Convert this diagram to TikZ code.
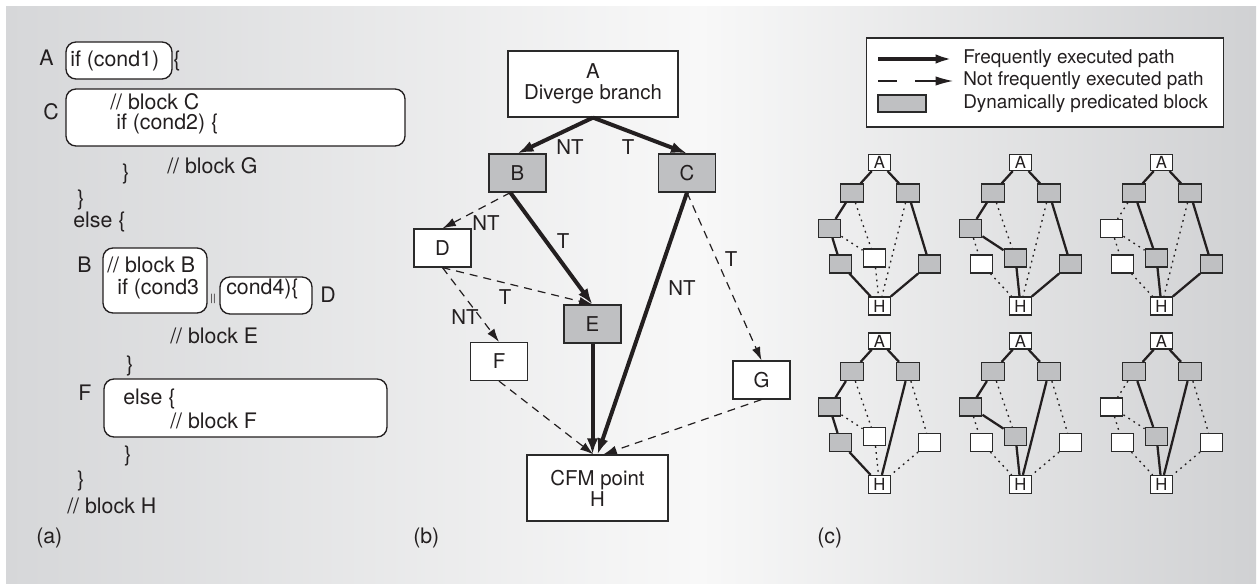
\documentclass[tikz,border=0pt]{standalone}
\usepackage{fontspec}
\setmainfont{TeX Gyre Heros}
\usetikzlibrary{arrows.meta}
\definecolor{ink}{HTML}{231F20}
\definecolor{pgray}{HTML}{BFC0C2}
\definecolor{bgL}{HTML}{D6D7D9}
\definecolor{bgM}{HTML}{F8F8F8}
\definecolor{bgR}{HTML}{D0D1D3}
\definecolor{edgec}{HTML}{2A2A2A}
\newcommand\mkgraph[6]{%
  \begin{scope}[shift={#2}]
    \node[sbox,minimum height=12pt] (#1A) at (879.5,162.5) {A};
    \node[sbox,fill=pgray] (#1L1) at (852,193) {};
    \node[sbox,fill=pgray] (#1R1) at (908,193) {};
    \node[sbox,fill=#3] (#1L2) at (829.5,228.5) {};
    \node[sbox,fill=#4] (#1L3) at (840.5,264) {};
    \node[sbox,fill=#5] (#1M) at (874.5,258) {};
    \node[sbox,fill=#6] (#1R2) at (929.5,264) {};
    \node[sbox] (#1H) at (879.5,306) {H};
  \end{scope}}
\begin{document}
\begin{tikzpicture}[x=0.75pt,y=-0.75pt,
  code/.style={anchor=base west,inner sep=0,font=\fontsize{16}{19}\selectfont,text=ink},
  cbox/.style={draw=ink,line width=1pt,rounded corners=7.5pt,fill=white,inner sep=0},
  fbox/.style={draw=edgec,line width=0.9pt,fill=white,inner sep=0,
    minimum width=42.75pt,minimum height=28.5pt,
    font=\fontsize{15.3}{15.8}\selectfont,text=ink,align=center},
  fboxg/.style={fbox,fill=pgray},
  lbl/.style={inner sep=0,font=\fontsize{15.3}{18}\selectfont,text=ink},
  freqarrow/.style={line width=3pt,draw=ink,-{Latex[length=12pt,width=8.5pt]}},
  rarearrow/.style={line width=0.9pt,draw=ink,dash pattern=on 6pt off 4.5pt,-{Latex[length=10pt,width=6.5pt]}},
  sbox/.style={draw=edgec,line width=0.9pt,fill=white,inner sep=0,minimum width=17pt,minimum height=13.5pt,
    font=\fontsize{12.5}{13}\selectfont,text=ink},
  csolid/.style={line width=1.7pt,draw=ink},
  cdot/.style={line width=1pt,draw=ink,dash pattern=on 1.3pt off 3.2pt},
  legtxt/.style={anchor=west,inner sep=0,font=\fontsize{14.2}{17}\selectfont,text=ink}
]
\useasboundingbox (0,0) rectangle (1258,585);
\fill[white] (0,0) rectangle (1258,585);
\shade[left color=bgL,right color=bgM] (6,7) rectangle (700,583);
\shade[left color=bgM,right color=bgR] (699.5,7) rectangle (1256,583);

% ---------------- (a) ----------------
\node[cbox,minimum width=79.5pt,minimum height=27.75pt] (boxA) at (119,60.5) {};
\node[cbox,minimum width=254.25pt,minimum height=42.75pt] (boxC) at (235.5,117.5) {};
\node[cbox,minimum width=78pt,minimum height=48.75pt] (boxB) at (155,280.5) {};
\node[cbox,minimum width=69pt,minimum height=27.75pt] (boxD) at (266,295.5) {};
\node[cbox,minimum width=212.25pt,minimum height=43.5pt] (boxF) at (245.5,408) {};

\node[code] (tA) at (39,66) {A};
\node[code] (tc1) at (70,67) {if (cond1)};
\node[code] (tb1) at (173,67) {\{};
\node[code] (tC) at (43,120) {C};
\node[code] (tbc) at (110,110) {// block C};
\node[code] (tc2) at (116,130) {if (cond2) \{};
\node[code] (tbg) at (167,173) {// block G};
\node[code] (tr1) at (122,180) {\}};
\node[code] (tr2) at (77,205) {\}};
\node[code] (tel) at (73,227) {else \{};
\node[code] (tB) at (77,272) {B};
\node[code] (tbb) at (107,272) {// block B};
\node[code] (tc3) at (117,294) {if (cond3};
\node[inner sep=0,font=\fontsize{7.5}{8}\selectfont,text=ink] (tor) at (213,299) {||};
\node[code] (tc4) at (226,294) {cond4)\{};
\node[code] (tD) at (320,302) {D};
\node[code] (tbe) at (170,343) {// block E};
\node[code] (tr3) at (126,371) {\}};
\node[code] (tF) at (78,400) {F};
\node[code] (tel2) at (123,404) {else \{};
\node[code] (tbf) at (170,428) {// block F};
\node[code] (tr4) at (124,461) {\}};
\node[code] (tr5) at (77,486) {\}};
\node[code] (tbh) at (67,513) {// block H};
\node[code] (capa) at (36,543) {(a)};

% ---------------- (b) ----------------
\node[fbox,minimum width=127.5pt,minimum height=49.5pt] (bA) at (593,84) {A\\Diverge branch};
\node[fboxg] (bB) at (517.5,173) {B};
\node[fboxg] (bC) at (687,173) {C};
\node[fbox] (bD) at (442.5,248) {D};
\node[fboxg] (bE) at (592.5,324) {E};
\node[fbox] (bF) at (499,361.5) {F};
\node[fbox] (bG) at (761.5,380) {G};
\node[fbox,minimum width=105.75pt,minimum height=49.5pt] (bH) at (597.5,488) {CFM point\\H};

\draw[freqarrow] (bA.south) -- (bB.north);
\draw[freqarrow] (bA.south) -- (bC.north);
\draw[rarearrow] (bB.-110) -- (bD.north);
\draw[freqarrow] (bB.-110) -- (bE.north);
\draw[rarearrow] (bD.south) -- (bE.north);
\draw[rarearrow] (bD.south) -- (bF.north);
\draw[rarearrow] (bC.south) -- (bG.north);
\draw[rarearrow] (bF.south) -- (bH.97);
\draw[rarearrow] (bG.south) -- (bH.80);
\draw[freqarrow] (bE.south) -- (bE.south |- bH.north);
\draw[freqarrow] (bC.south) -- (bH.north);

\node[lbl] (nt1) at (570,147) {NT};
\node[lbl] (t1) at (628,147) {T};
\node[lbl] (nt2) at (486,223) {NT};
\node[lbl] (t2) at (563,241) {T};
\node[lbl] (t3) at (731,259) {T};
\node[lbl] (nt3) at (682,288) {NT};
\node[lbl] (t4) at (505,297) {T};
\node[lbl] (nt4) at (465,317) {NT};
\node[code] (capb) at (413,543) {(b)};

% ---------------- legend ----------------
\node[draw=edgec,line width=0.9pt,fill=white,minimum width=267.75pt,minimum height=66.75pt,inner sep=0] (leg) at (1045,82.5) {};
\coordinate (l1a) at (878,59);
\coordinate (l1b) at (953,59);
\coordinate (l2a) at (878,81);
\coordinate (l2b) at (897,81);
\coordinate (l2c) at (915,81);
\coordinate (l2d) at (953,81);
\draw[line width=2.6pt,draw=ink,-{Latex[length=13pt,width=7pt]}] (l1a) -- (l1b);
\draw[line width=0.9pt,draw=ink] (l2a) -- (l2b);
\draw[line width=0.9pt,draw=ink,-{Latex[length=13pt,width=7pt]}] (l2c) -- (l2d);
\node[draw=edgec,line width=0.9pt,fill=pgray,minimum width=36pt,minimum height=12.75pt,inner sep=0] (l3) at (902,103.5) {};
\node[legtxt] (lt1) at (963,59) {Frequently executed path};
\node[legtxt] (lt2) at (963,81) {Not frequently executed path};
\node[legtxt] (lt3) at (963,103.5) {Dynamically predicated block};

% ---------------- (c) ----------------
\mkgraph{ga}{(0,0)}{pgray}{pgray}{white}{pgray}
\mkgraph{gb}{(141,0)}{pgray}{white}{pgray}{pgray}
\mkgraph{gc}{(282,0)}{white}{white}{pgray}{pgray}
\mkgraph{gd}{(0,178.5)}{pgray}{pgray}{white}{white}
\mkgraph{ge}{(141,178.5)}{pgray}{white}{pgray}{white}
\mkgraph{gf}{(282,178.5)}{white}{white}{pgray}{white}

\foreach \u/\v in {A/L1,A/R1,L1/L2,L2/L3,L3/H,R1/R2,R2/H} \draw[csolid] (ga\u) -- (ga\v);
\foreach \u/\v in {L1/M,L2/M,M/H,R1/H} \draw[cdot] (ga\u) -- (ga\v);

\foreach \u/\v in {A/L1,A/R1,L1/L2,L2/M,M/H,R1/R2,R2/H} \draw[csolid] (gb\u) -- (gb\v);
\foreach \u/\v in {L1/M,L2/L3,L3/H,R1/H} \draw[cdot] (gb\u) -- (gb\v);

\foreach \u/\v in {A/L1,A/R1,L1/M,M/H,R1/R2,R2/H} \draw[csolid] (gc\u) -- (gc\v);
\foreach \u/\v in {L1/L2,L2/L3,L2/M,L3/H,R1/H} \draw[cdot] (gc\u) -- (gc\v);

\foreach \u/\v in {A/L1,A/R1,L1/L2,L2/L3,L3/H,R1/H} \draw[csolid] (gd\u) -- (gd\v);
\foreach \u/\v in {L1/M,L2/M,M/H,R1/R2,R2/H} \draw[cdot] (gd\u) -- (gd\v);

\foreach \u/\v in {A/L1,A/R1,L1/L2,L2/M,M/H,R1/H} \draw[csolid] (ge\u) -- (ge\v);
\foreach \u/\v in {L1/M,L2/L3,L3/H,R1/R2,R2/H} \draw[cdot] (ge\u) -- (ge\v);

\foreach \u/\v in {A/L1,A/R1,L1/M,M/H,R1/H} \draw[csolid] (gf\u) -- (gf\v);
\foreach \u/\v in {L1/L2,L2/L3,L2/M,L3/H,R1/R2,R2/H} \draw[cdot] (gf\u) -- (gf\v);

\node[code] (capc) at (817,543) {(c)};
\end{tikzpicture}
\end{document}
